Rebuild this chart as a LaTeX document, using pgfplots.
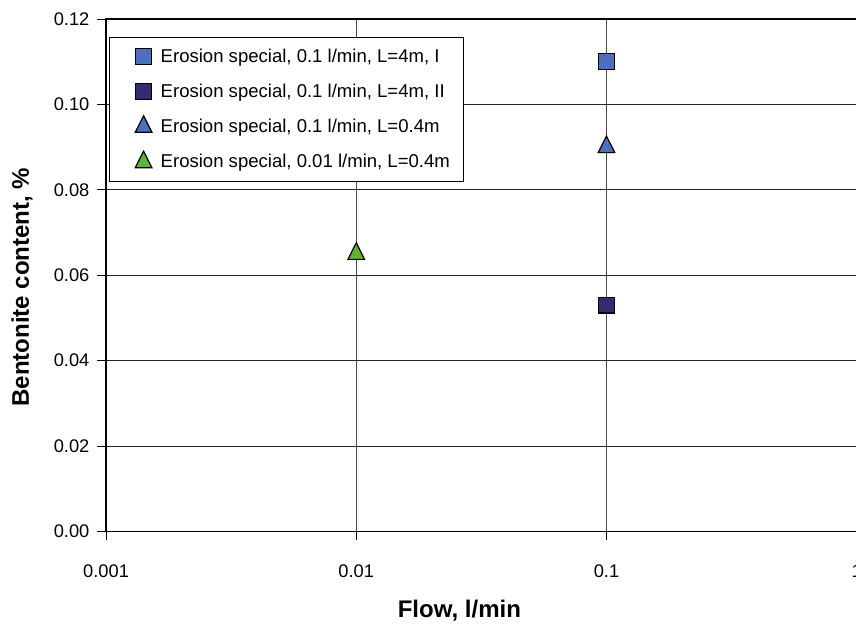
\documentclass[border=0pt]{standalone}
\usepackage{fontspec}
\setmainfont{Liberation Sans}
\usepackage{pgfplots}
\pgfplotsset{compat=1.18}
\definecolor{cA}{RGB}{78,110,190}
\definecolor{cB}{RGB}{50,44,112}
\definecolor{cC}{RGB}{78,110,190}
\definecolor{cD}{RGB}{98,178,52}
\begin{document}
\begin{tikzpicture}
\begin{axis}[
  scale only axis, width=562.5pt, height=384pt,
  xmode=log, xmin=0.001, xmax=1, ymin=0, ymax=0.12,
  xtick={0.001,0.01,0.1,1}, xticklabels={0.001,0.01,0.1,1},
  xminorticks=false,
  ytick={0,0.02,0.04,0.06,0.08,0.1,0.12},
  yticklabel style={/pgf/number format/fixed, /pgf/number format/fixed zerofill, /pgf/number format/precision=2, xshift=-2.25pt},
  /pgf/number format/assume math mode=true,
  tick label style={font=\fontsize{13.7}{16}\selectfont},
  xticklabel style={yshift=-14.5pt},
  tick align=outside, major tick length=6.75pt,
  xtick pos=bottom, ytick pos=left,
  tick style={black, line width=0.75pt},
  xmajorgrids, ymajorgrids,
  x grid style={black!70, line width=0.75pt},
  y grid style={black!85, line width=0.75pt},
  axis line style={black, line width=0.9pt},
  xlabel={Flow, l/min}, ylabel={Bentonite content, \%},
  every axis x label/.style={at={(axis description cs:0.4707,-0.168)}, anchor=base, font=\fontsize{18}{21}\selectfont\bfseries},
  every axis y label/.style={at={(axis description cs:-0.112,0.4766)}, anchor=center, rotate=90, font=\fontsize{18}{21}\selectfont\bfseries},
  legend cell align=left,
  legend style={at={(axis description cs:0.004,0.965)}, anchor=north west,
    font=\fontsize{13.9}{16}\selectfont, draw=black, line width=0.75pt,
    inner xsep=8.5pt, inner ysep=6.5pt, row sep=10.5pt,
    /tikz/every odd column/.append style={column sep=4.6pt}},
  legend image code/.code={\path[draw=none,fill=none] (-17pt,-1pt) rectangle (0pt,1pt); \draw[#1] plot coordinates {(0pt,0pt)};},
]
\addplot[only marks, mark=square*, mark size=5.9pt, mark options={fill=cA, draw=black, line width=0.9pt}] coordinates {(0.1,0.110)};
\addlegendentry{Erosion special, 0.1 l/min, L=4m, I}
\addplot[only marks, mark=square*, mark size=5.9pt, mark options={fill=cB, draw=black, line width=0.9pt}] coordinates {(0.1,0.053)};
\addlegendentry{Erosion special, 0.1 l/min, L=4m, II}
\addplot[only marks, mark=triangle*, mark size=7.2pt, mark options={fill=cC, draw=black, line width=0.9pt, yscale=1.15}] coordinates {(0.1,0.090)};
\addlegendentry{Erosion special, 0.1 l/min, L=0.4m}
\addplot[only marks, mark=triangle*, mark size=7.2pt, mark options={fill=cD, draw=black, line width=0.9pt, yscale=1.15}] coordinates {(0.01,0.065)};
\addlegendentry{Erosion special, 0.01 l/min, L=0.4m}
\end{axis}
\pgfresetboundingbox
\path ([xshift=-79.5pt,yshift=-74.25pt]current axis.south west) rectangle ([xshift=-0.5pt,yshift=14.25pt]current axis.north east);
\end{tikzpicture}
\end{document}
